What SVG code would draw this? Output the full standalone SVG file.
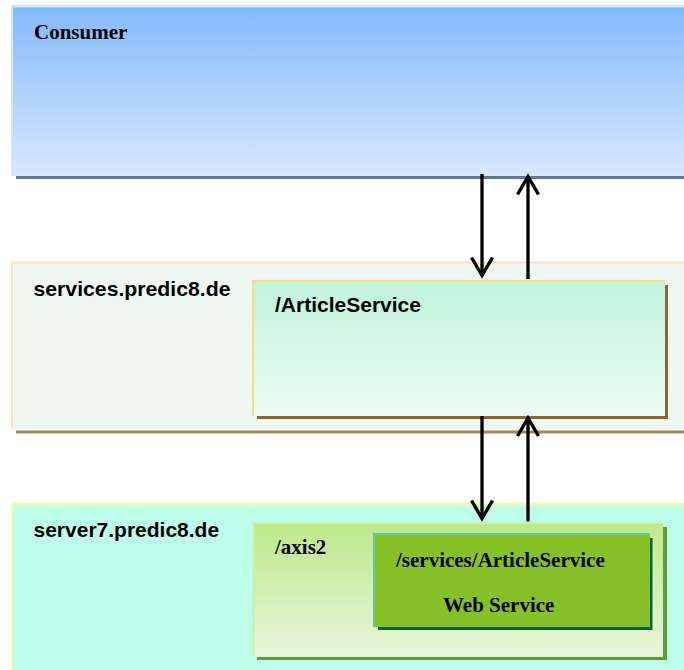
<svg xmlns="http://www.w3.org/2000/svg" width="684" height="670" viewBox="0 0 684 670">
  <defs>
    <linearGradient id="gConsumer" x1="0" y1="0" x2="0" y2="1">
      <stop offset="0" stop-color="#84bafc"/>
      <stop offset="1" stop-color="#d9e8fd"/>
    </linearGradient>
    <linearGradient id="gArticle" x1="0" y1="0" x2="0" y2="1">
      <stop offset="0" stop-color="#bff4da"/>
      <stop offset="1" stop-color="#effcf5"/>
    </linearGradient>
    <linearGradient id="gAxis" x1="0" y1="0" x2="0" y2="1">
      <stop offset="0" stop-color="#bde98a"/>
      <stop offset="1" stop-color="#e9f5de"/>
    </linearGradient>
    <marker id="head" viewBox="-22 -14 26 28" markerWidth="26" markerHeight="28" refX="0" refY="0" orient="auto" markerUnits="userSpaceOnUse">
      <path d="M-18,-10.5 L0,0 L-18,10.5" fill="none" stroke="#000" stroke-width="3.4" stroke-linejoin="miter"/>
    </marker>
  </defs>
  <style>
    .sans { font-family: "Liberation Sans", Arial, sans-serif; font-weight: bold; font-size: 21px; fill: #000; }
    .serif { font-family: "Liberation Serif", "Times New Roman", serif; font-weight: bold; font-size: 21px; fill: #000; }
    .conn { stroke: #000; stroke-width: 3.3; fill: none; marker-end: url(#head); }
  </style>

  <rect x="0" y="0" width="684" height="670" fill="#ffffff"/>

  <g id="consumer">
    <rect x="16" y="10" width="668" height="169" fill="#5a7898"/>
    <rect x="11" y="5" width="673" height="171" fill="#d3e5fd"/>
    <rect x="13" y="7.5" width="671" height="168.5" fill="url(#gConsumer)"/>
    <text class="serif" x="34" y="39">Consumer</text>
  </g>

  <g id="services-host">
    <rect x="16" y="430.5" width="668" height="3" fill="#a08852"/>
    <rect x="11" y="261.5" width="673" height="167" fill="#fde3b6"/>
    <rect x="13" y="263.5" width="671" height="165" fill="#eef7f1"/>
    <text class="sans" x="33.5" y="296" textLength="197" lengthAdjust="spacingAndGlyphs">services.predic8.de</text>
  </g>

  <g id="article-service">
    <rect x="257" y="285" width="411" height="134" fill="#8a6a2a"/>
    <rect x="252" y="280" width="413" height="136" fill="#fdd78e"/>
    <rect x="254" y="282" width="411" height="134" fill="url(#gArticle)"/>
    <text class="sans" x="275" y="312">/ArticleService</text>
  </g>

  <g id="server7-host">
    <rect x="11" y="503" width="673" height="167" fill="#eefc9c"/>
    <rect x="13" y="505.5" width="671" height="164.5" fill="#bffdeb"/>
    <text class="sans" x="33.5" y="536.5">server7.predic8.de</text>
  </g>

  <g id="axis2">
    <rect x="257" y="527" width="410" height="133" fill="#5e9c3e"/>
    <rect x="252.5" y="522" width="410.5" height="135" fill="#cdf2a4"/>
    <rect x="254.5" y="524" width="408.5" height="133" fill="url(#gAxis)"/>
    <text class="serif" x="275" y="554">/axis2</text>
  </g>

  <g id="web-service">
    <rect x="378" y="538" width="274.5" height="92" fill="#0b6042"/>
    <rect x="373" y="533" width="277" height="94" fill="#62c6a8"/>
    <rect x="375" y="535" width="275" height="92" fill="#88c028"/>
    <text class="serif" x="396" y="566.5">/services/ArticleService</text>
    <text class="serif" x="443" y="611.5">Web Service</text>
  </g>

  <g id="connectors">
    <line class="conn" x1="482" y1="174" x2="482" y2="275.5"/>
    <line class="conn" x1="528" y1="279" x2="528" y2="176.5"/>
    <line class="conn" x1="482" y1="416" x2="482" y2="518.5"/>
    <line class="conn" x1="528" y1="521.5" x2="528" y2="418"/>
  </g>
</svg>
